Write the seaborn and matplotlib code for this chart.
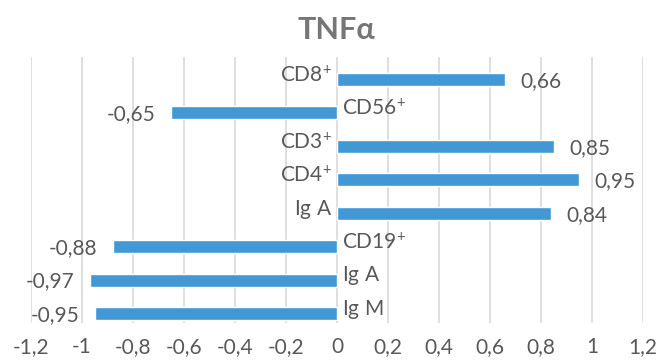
import matplotlib
matplotlib.use("Agg")
import matplotlib.pyplot as plt
import numpy as np
import pandas as pd
import seaborn as sns

# Correlation of TNFα with each lymphocyte / immunoglobulin marker
categories = ["CD8^{+}", "CD56^{+}", "CD3^{+}", "CD4^{+}", "Ig\\ A", "CD19^{+}", "Ig\\ A", "Ig\\ M"]
values = [0.66, -0.65, 0.85, 0.95, 0.84, -0.88, -0.97, -0.95]
x_ticks = [-1.2, -1.0, -0.8, -0.6, -0.4, -0.2, 0.0, 0.2, 0.4, 0.6, 0.8, 1.0, 1.2]
title = "TNFα"

BAR = "#4198D5"
TEXT = "#595959"
TITLE = "#767676"
GRID = "#D9D9D9"
FS = 15

sns.set_style("white")
plt.rcParams["font.family"] = ["Lato", "DejaVu Sans"]
plt.rcParams["mathtext.fontset"] = "custom"
plt.rcParams["mathtext.rm"] = "Lato"
plt.rcParams["mathtext.it"] = "Lato:italic"
plt.rcParams["mathtext.bf"] = "Lato:bold"


def fmt(v):
    return ("%.2f" % v).replace(".", ",")


df = pd.DataFrame({"row": np.arange(len(values)), "value": values})

fig = plt.figure(figsize=(6.61, 3.63), dpi=100)
ax = fig.add_axes([31 / 661, 1 - 323 / 363, 612 / 661, 266 / 363])

sns.barplot(data=df, x="value", y="row", orient="h", color=BAR,
            width=0.39, saturation=1, ax=ax)

ax.set_xlim(-1.2, 1.2)
ax.set_ylim(7.284, -0.673)
ax.set_xticks(x_ticks)
ax.set_xticklabels([("%g" % t).replace(".", ",") if t != 0 else "0" for t in x_ticks],
                   fontsize=FS, color=TEXT)
ax.tick_params(axis="x", length=0, pad=10)
ax.set_yticks([])
ax.set_xlabel("")
ax.set_ylabel("")
ax.grid(axis="x", color=GRID, linewidth=1.2)
ax.set_axisbelow(True)
for s in ax.spines.values():
    s.set_visible(False)

for i, (cat, v) in enumerate(zip(categories, values)):
    label = r"$\mathregular{%s}$" % cat
    # category name sits on the side of zero opposite to the bar
    side = -1 if v >= 0 else 1
    ax.annotate(label, (0, i), xytext=(side * 3.5, 3), textcoords="offset points",
                ha="right" if v >= 0 else "left", va="center",
                fontsize=FS, color=TEXT)
    ax.annotate(fmt(v), (v, i), xytext=(-side * 11, -1),
                textcoords="offset points", ha="left" if v >= 0 else "right",
                va="center", fontsize=FS, color=TEXT)

fig.text(336 / 661, 1 - 30 / 363, title, ha="center", va="center",
         fontsize=22, fontweight="bold", color=TITLE)

fig.savefig("out.png", dpi=100, facecolor="white")
